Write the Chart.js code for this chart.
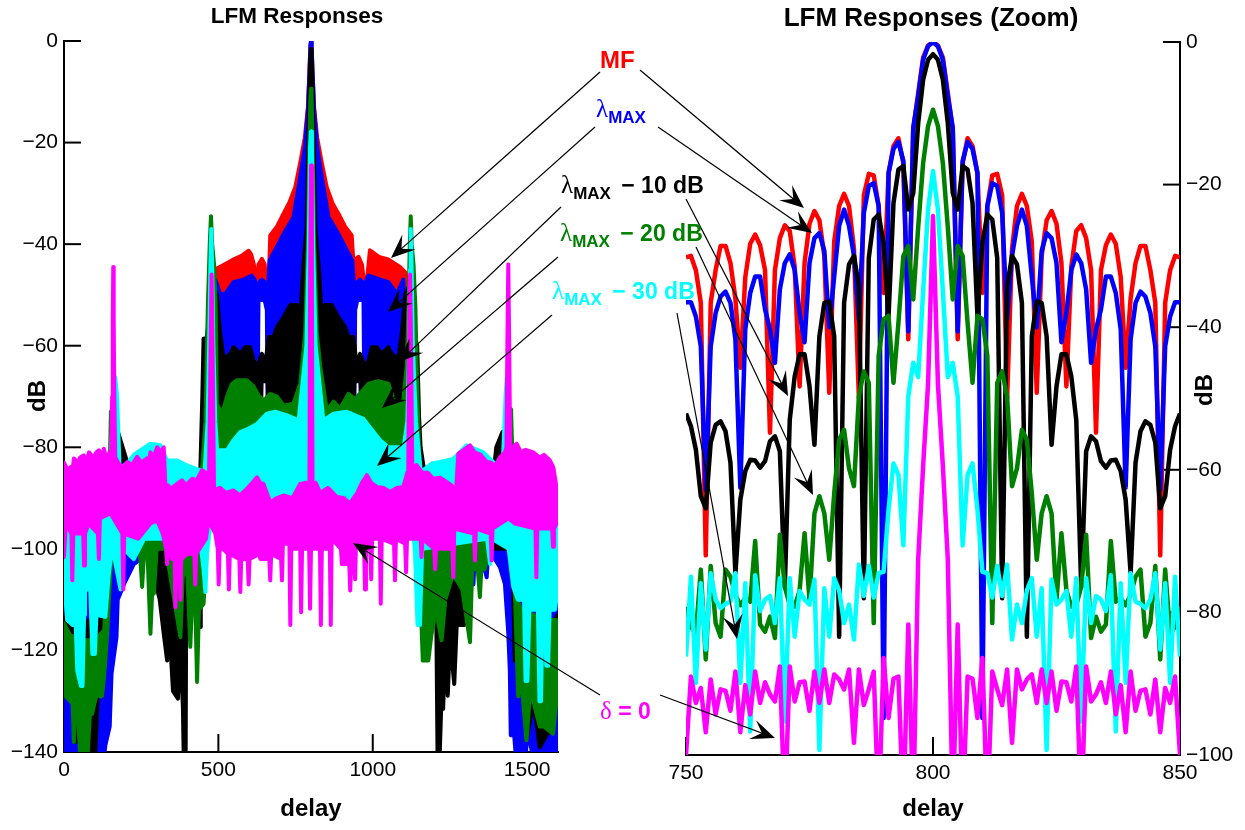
<!DOCTYPE html>
<html>
<head>
<meta charset="utf-8">
<title>LFM Responses</title>
<script src="https://cdn.jsdelivr.net/npm/chart.js@4/dist/chart.umd.min.js"></script>
<style>
  html, body { margin: 0; padding: 0; background: #fff; }
  #page { position: relative; width: 1245px; height: 830px; overflow: hidden; }
  canvas { position: absolute; top: 0; }
  #arrows { position: absolute; left: 0; top: 0; }
  .lab { position: absolute; font: bold 23px "Liberation Sans", Arial, sans-serif; white-space: nowrap; line-height: 26px; }
  .lab i { font: normal 25px "Liberation Serif", serif; }
  .lab sub { font: bold 17px "Liberation Sans", Arial, sans-serif; vertical-align: -6px; line-height: 0; margin-right: 4px; }
</style>
</head>
<body>
<div id="page">
  <canvas id="leftChart" width="600" height="830" style="left:0"></canvas>
  <canvas id="rightChart" width="645" height="830" style="left:600px"></canvas>
  <svg id="arrows" width="1245" height="830"></svg>
  <div class="lab" style="left:600px;top:47px;color:#f00;font-size:24px">MF</div>
  <div class="lab" style="left:596px;top:95px;color:#00f"><i>λ</i><sub>MAX</sub></div>
  <div class="lab" style="left:561px;top:171px;color:#000"><i>λ</i><sub>MAX</sub> − 10 dB</div>
  <div class="lab" style="left:560px;top:219px;color:#008000"><i>λ</i><sub>MAX</sub> − 20 dB</div>
  <div class="lab" style="left:552px;top:277px;color:#0ff"><i>λ</i><sub>MAX</sub> − 30 dB</div>
  <div class="lab" style="left:600px;top:697px;color:#f0f"><i>δ</i> = 0</div>
</div>
<script>
// left plot, envelopes (delay, dB)
var mfTopX = [478,495,520,550,575,598,606,615,622,630,641,650,657,664,668,690,711,730,749,765,780,790,795,798,800,802,805,810,820,835,851,870,889,910,932,937,946,954,965,975,983,991,1020,1050,1088,1105,1118];
var mfTopY = [-48,-44.8,-44,-43,-42.3,-41.3,-42,-44,-49,-44,-42.9,-44,-49.8,-46,-38.3,-36.5,-34,-31.8,-28.8,-24,-19,-13,-6,-1,0,-1,-6,-13,-19,-24,-28.8,-32,-34,-36.5,-38.3,-43.2,-42.9,-42.5,-44,-49,-46,-41.2,-42.5,-43,-44.5,-45.5,-48];
var mfLowX = [478,625,630,650,657,660,940,943,950,970,975,1118];
var mfLowY = [-62,-62,-46.5,-46.5,-50,-62,-62,-50,-46.5,-46.5,-62,-62];

var lamTopX = [0,160,440,470,490,506,522,549,581,608,618,624,632,641,650,657,662,666,690,711,743,765,780,790,795,798,800,802,805,810,820,835,857,889,910,934,938,943,950,959,968,975,980,986,1024,1051,1078,1099,1112,1150,1440,1600];
var lamTopY = [-95,-95,-95,-70,-47,-49.8,-49.8,-47.5,-47,-46.2,-47,-49.8,-47.5,-47,-47.5,-50,-47,-43.2,-40.5,-38,-34.7,-26.8,-21,-13.5,-6,-1,0,-1,-6,-13.5,-21,-26.8,-34.7,-38,-40.5,-43.2,-47,-50,-47.5,-47,-47.5,-49.8,-47,-46.2,-47,-47.5,-49.8,-47,-72,-95,-95,-95];
var lamLowX = [0,28,36,44,66,72,78,128,134,148,154,170,174,194,226,237,260,440,470,625,630,650,657,661,939,943,950,970,975,1130,1320,1326,1332,1340,1369,1375,1412,1428,1439,1444,1447,1458,1465,1490,1505,1520,1600];
var lamLowY = [-142,-142,-133,-142,-142,-136,-142,-142,-138.7,-135,-124.6,-117.4,-110,-107,-103,-102.5,-99,-99,-85,-85,-51,-51,-53,-85,-85,-53,-51,-51,-85,-85,-99,-107,-99,-99,-105.6,-100,-103.6,-106.9,-116.7,-124,-136.7,-136.7,-142,-142,-136,-142,-142];

var blkTopX = [0,20,60,80,110,130,140,148,160,175,190,205,240,440,448,452,462,476,484,495,506,517,539,549,571,587,603,614,625,641,652,663,679,690,711,733,754,765,775,786,794,798,800,802,806,814,825,835,846,867,889,910,921,937,948,959,975,986,997,1013,1029,1051,1061,1083,1094,1105,1116,1124,1138,1144,1150,1155,1165,1390,1400,1420,1440,1452,1460,1468,1480,1520,1550,1580,1600];
var blkTopY = [-113,-115,-116,-114,-114,-110,-100,-95,-78,-77,-80,-83,-88,-88,-70,-58.6,-58.5,-52,-48.5,-50,-57.6,-62.6,-61.6,-60.3,-61.6,-60.3,-60.3,-62.9,-64.2,-61.6,-63.6,-58.3,-58.3,-56.3,-54.4,-52,-52,-54.4,-44.5,-36.6,-12,-3,-1.6,-3,-12,-36.6,-44.5,-54.4,-52,-52,-54.4,-56.3,-58.3,-58.3,-63.6,-61.6,-64.2,-62.9,-60.3,-60.3,-61.6,-60.3,-61.6,-62.6,-57.6,-50,-48.5,-52,-58.6,-60,-74,-80,-84,-86,-80,-77,-77,-85,-100,-110,-114,-114,-116,-115,-113];
var blkLowX = [0,20,28,34,40,46,52,60,68,75,80,85,90,100,112,120,128,136,150,161,300,302,310,323,334,338,353,369,375,385,388,394,396,441,443,452,462,470,634,640,660,666,934,940,960,966,1125,1135,1145,1195,1205,1210,1216,1225,1228,1236,1243,1250,1264,1272,1296,1305,1400,1452,1460,1470,1500,1520,1541,1570,1600];
var blkLowY = [-118,-120,-128,-138,-130,-138,-125,-138,-130,-141,-130,-142,-130,-142,-125,-122,-118,-110,-100,-98,-98,-108,-110,-116.7,-122,-112,-128,-129.5,-118,-131,-142,-142,-107,-115.4,-105,-100,-95,-88,-88,-67,-67,-88,-88,-67,-67,-88,-88,-95,-104,-104,-108,-142,-142,-125,-131.5,-118,-128.9,-118,-126.6,-115,-115,-100,-100,-100,-122,-118,-137,-130,-139,-136,-124];

var l20TopX = [0,20,60,100,130,140,146,152,160,168,174,182,190,300,440,458,466,472,476,480,486,491,495,512,528,544,560,592,614,630,646,668,690,711,743,765,781,790,795,798,800,802,805,810,819,830,851,873,894,921,943,986,1018,1051,1072,1099,1110,1116,1120,1123,1126,1132,1138,1142,1151,1160,1300,1400,1420,1432,1440,1448,1456,1466,1480,1560,1595,1600];
var l20TopY = [-114.7,-117,-118,-118,-116,-105,-90,-73,-72.5,-72.5,-80,-86,-88,-90,-90,-75,-52,-40,-34.5,-40,-44,-52,-71.4,-73.4,-70,-67.5,-66.8,-66.8,-68,-69.8,-70.8,-69.5,-70,-71.8,-71.4,-67.5,-57.6,-40,-20,-11,-9.4,-11,-20,-40,-57.6,-64,-72.8,-71,-72.4,-69.5,-70.5,-67.5,-67,-67.5,-71.4,-70.8,-64,-52,-40,-34.5,-40,-44,-52,-64,-82.6,-88,-90,-90,-88,-73,-72.5,-72.5,-90,-109.5,-112,-114,-114,-116];
var l20LowX = [0,5,28,32,36,44,54,75,84,91,100,107,115,123,130,140,150,161,240,253,262,270,280,286,291,300,330,377,385,400,409,415,425,431,437,452,468,480,1130,1142,1155,1162,1180,1190,1205,1223,1235,1260,1290,1315,1322,1340,1347,1355,1363,1380,1440,1460,1471,1480,1498,1510,1520,1541,1555,1584,1600];
var l20LowY = [-115,-129,-130.5,-138,-130,-132,-142,-142,-132.5,-132.5,-130,-128.5,-129,-129,-125,-116.7,-105,-95.7,-95,-107.5,-98,-100,-116.7,-108,-108.8,-100,-100,-117.4,-105,-105,-119.3,-110,-110,-126.2,-112,-110.8,-94.4,-91,-91,-100,-110,-122,-122,-117,-112,-118,-110,-105,-108,-118.4,-104,-104,-109.5,-100,-104,-98,-98,-108,-129,-125,-137.7,-128,-130,-135,-135,-136.4,-127];

var l30TopX = [0,130,150,160,166,172,180,205,226,247,280,312,334,366,399,441,455,465,470,474,477,480,484,490,496,528,549,571,598,625,657,684,722,760,785,793,797,800,803,807,815,840,873,916,970,986,1024,1051,1100,1112,1118,1121,1123,1126,1130,1140,1156,1164,1191,1218,1261,1304,1331,1358,1390,1420,1430,1434,1440,1450,1600];
var l30TopY = [-90,-90,-85,-70,-66.2,-70,-84,-83.2,-81.5,-80.6,-79.3,-79.6,-82.6,-82.6,-83.6,-84.5,-85,-75,-60,-45,-37,-45,-60,-75,-80.6,-80.6,-78.6,-77,-76.3,-75.4,-73.4,-73,-73.7,-74.7,-60,-40,-21,-17.8,-21,-40,-60,-74.7,-73.4,-73,-74.4,-75.7,-78.6,-80,-80,-75,-60,-45,-37,-45,-60,-75,-85,-84.5,-83.2,-82.9,-82.3,-79.6,-80.3,-81,-82.9,-85,-70,-66.2,-70,-90,-90];
var l30LowX = [0,10,28,38,43,55,60,65,68,85,92,100,105,134,145,156,183,192,226,260,440,452,458,463,480,655,660,668,692,696,704,878,883,890,905,912,920,1125,1137,1145,1153,1160,1370,1380,1386,1440,1455,1470,1490,1495,1501,1507,1535,1540,1545,1550,1558,1562,1568,1573,1590,1600];
var l30LowY = [-106.2,-114,-115,-115,-124,-127,-127,-113,-108,-108,-120.7,-120.7,-113,-113.4,-105,-99.6,-108,-100,-102,-98,-98,-104,-108.5,-101,-92,-90,-85.5,-90,-90,-85,-90,-90,-84,-90,-90,-85,-90,-92,-101,-115,-115,-100,-98,-103,-98,-100,-107.5,-110,-110,-126,-126,-112,-112,-130,-130,-112,-115,-123,-123,-112,-112,-107.5];

var delTopX = [0,12,21,28,32,45,52,64,72,81,95,105,113,120,129,140,147,153,156,158,159.5,161,163,166,177,190,205,220,237,250,269,275,280,290,302,312,323,329,337,345,360,382,395,415,430,447,458,470,475,478,481,486,505,525,549,570,592,610,625,635,646,668,690,711,740,765,785,795,797,800,803,805,815,830,855,884,905,927,938,948,965,981,995,1013,1035,1056,1078,1099,1112,1115,1118,1121,1124,1128,1142,1160,1178,1196,1218,1239,1255,1270,1277,1295,1315,1330,1350,1369,1382,1396,1412,1428,1433,1436,1439,1442,1445,1452,1466,1480,1495,1520,1540,1555,1574,1585,1595,1600];
var delTopY = [-83,-84.5,-83.9,-84.5,-82.2,-83,-82,-81.6,-83,-81,-82,-81,-80.6,-82,-80.3,-83,-81,-82,-70,-55,-44.5,-55,-70,-82,-83.2,-84,-82.9,-83.5,-81.9,-83,-82.2,-83,-81,-82,-80,-81,-80,-88.5,-87.5,-88.2,-87.5,-86.5,-87.5,-86.2,-86.5,-84.5,-85,-85,-60,-46,-60,-88.5,-88,-89,-88.5,-89.5,-88.2,-87,-85.9,-87,-87.2,-90.8,-90,-89.5,-90,-87.2,-87,-88,-50,-24.5,-50,-88,-87,-89,-88,-89.8,-90,-91.1,-90,-89.2,-87,-85.5,-87,-87.8,-88,-88.8,-88,-87.8,-85,-85,-60,-46,-60,-84,-83.5,-85,-85,-86.2,-86,-86.8,-87.5,-88.5,-81.3,-80.5,-79.6,-81,-81.5,-82.9,-83,-83.6,-82,-81,-80,-60,-44,-60,-80,-80,-79.3,-81,-80.5,-81,-82,-81.5,-82.6,-84,-87.8,-89];
var delLowX = [0,5,15,24,27,30,42,62,65,68,80,110,113,116,150,170,189,192,195,240,280,302,320,331,334,337,350,358,361,364,374,377,380,400,422,425,428,460,468,490,498,501,504,515,531,534,537,568,571,574,595,598,601,633,636,665,668,671,703,706,709,730,733,736,765,768,771,794,797,800,829,832,835,861,864,867,897,900,924,927,930,940,943,946,972,975,978,992,995,998,1023,1026,1029,1069,1072,1075,1105,1108,1111,1155,1158,1161,1199,1202,1205,1258,1261,1264,1328,1331,1334,1382,1385,1388,1440,1460,1527,1530,1533,1581,1584,1587,1600];
var delLowY = [-101.6,-96,-96,-97,-106.2,-97,-97,-97,-103.3,-97,-95,-97,-102,-94,-93,-95,-97,-108,-97,-98,-95,-94.4,-97,-100,-103,-100,-102,-102,-111.5,-102,-102,-110,-102,-101,-101,-107,-101,-98,-94.4,-97,-100,-107,-100,-100,-101,-108,-101,-102,-108.5,-102,-102,-107,-102,-101,-102,-102,-106.2,-101,-102,-106.2,-99,-99,-115,-100,-100,-112.5,-100,-100,-111.8,-100,-100,-115,-100,-100,-115,-98,-100,-103,-103,-108.2,-103,-103,-106,-98,-100,-108,-100,-100,-106,-98,-98,-110.8,-98,-99,-106.2,-98,-99,-104.6,-98,-98,-101.6,-98,-100,-104,-100,-100,-105.6,-96,-97,-102.3,-96,-97,-102.3,-96,-94,-95,-96,-105.6,-96,-96,-99.6,-96,-94.4];

var leftTicksX = [0,500,1000,1500];

// right plot, one sample per delay
var zoomDelays = [750,751,752,753,754,755,756,757,758,759,760,761,762,763,764,765,766,767,768,769,770,771,772,773,774,775,776,777,778,779,780,781,782,783,784,785,786,787,788,789,790,791,792,793,794,795,796,797,798,799,800,801,802,803,804,805,806,807,808,809,810,811,812,813,814,815,816,817,818,819,820,821,822,823,824,825,826,827,828,829,830,831,832,833,834,835,836,837,838,839,840,841,842,843,844,845,846,847,848,849,850];
var zoomMF = [-30.2,-30,-32,-36.6,-72,-36.6,-32,-28.6,-28.6,-31,-36,-45.7,-33,-28.3,-27,-28.5,-32,-54.8,-32,-27.5,-25.7,-26.5,-31.5,-48.3,-31,-25.5,-23.7,-25,-30,-49.2,-28,-23,-21.3,-23,-29,-50,-21.5,-18.5,-18.7,-23,-35.2,-18.4,-14.6,-13.5,-17,-41.7,-12.3,-7.2,-2.2,-0.5,0,-0.5,-2.2,-7.2,-12.3,-41.7,-17,-13.5,-14.6,-18.4,-35.2,-23,-18.7,-18.5,-21.5,-50,-29,-23,-21.3,-23,-28,-49.2,-30,-25,-23.7,-25.5,-31,-48.3,-31.5,-26.5,-25.7,-27.5,-32,-54.8,-32,-28.5,-27,-28.3,-33,-45.7,-36,-31,-28.6,-28.6,-32,-36.6,-72,-36.6,-32,-30,-30.2];
var zoomLam = [-36.5,-36.5,-38.5,-42.7,-62.8,-42.7,-38,-35.7,-35,-36.6,-41.7,-62.5,-40.3,-35.2,-32.9,-32.9,-37.5,-40.3,-45,-34.7,-31,-29.8,-32,-38,-42.1,-31,-27.5,-26.8,-29.3,-40,-32.9,-25.8,-23.5,-25.8,-30,-39,-24,-20.2,-19.8,-23,-94.8,-18.4,-15,-14,-16.7,-40.6,-12,-7.6,-2.5,-0.6,0,-0.6,-2.5,-7.6,-12,-40.6,-16.7,-14,-15,-18.4,-94.8,-23,-19.8,-20.2,-24,-39,-30,-25.8,-23.5,-25.8,-32.9,-40,-29.3,-26.8,-27.5,-31,-42.1,-38,-32,-29.8,-31,-34.7,-45,-40.3,-37.5,-32.9,-32.9,-35.2,-40.3,-62.5,-41.7,-36.6,-35,-35.7,-38,-42.7,-62.8,-42.7,-38.5,-36.5,-36.5];
var zoomL10 = [-52.1,-53.9,-57.2,-63.7,-65.4,-56.2,-53.7,-53.2,-54.6,-59,-74.5,-64.2,-60.2,-58.6,-58.7,-59.7,-58.8,-56,-55.3,-57.4,-76.5,-53,-46.9,-43.8,-43.8,-48.3,-56.5,-41.3,-36.6,-36.4,-41.3,-83.4,-36.6,-31.2,-30,-34.3,-78,-30.3,-24.9,-24.2,-28.2,-38.5,-22.6,-17.9,-17.4,-23.5,-21.2,-11.4,-5.3,-2.5,-1.7,-2.5,-5.3,-11.4,-21.2,-23.5,-17.4,-17.9,-22.6,-38.5,-28.2,-24.2,-24.9,-30.3,-78,-34.3,-30,-31.2,-36.6,-83.4,-41.3,-36.4,-36.6,-41.3,-56.5,-48.3,-43.8,-43.8,-46.9,-53,-76.5,-57.4,-55.3,-56,-58.8,-59.7,-58.7,-58.6,-60.2,-64.2,-74.5,-59,-54.6,-53.2,-53.7,-56.2,-65.4,-63.7,-57.2,-53.9,-52.1];
var zoomL20 = [-79.2,-82,-83,-74,-86.6,-73.5,-81.5,-83.4,-74,-75,-77.5,-79,-78,-78.5,-70,-81.7,-82.7,-80.6,-83.6,-69.1,-76.4,-79,-79.2,-76.9,-68.9,-78.3,-66.1,-63.7,-66.1,-72.6,-63.3,-55.8,-54.4,-59.8,-62.3,-49.7,-46.2,-47.8,-81.5,-44,-38.9,-38.4,-47.8,-39.4,-30,-28.6,-36.1,-26,-17,-11.8,-9.5,-11.8,-17,-26,-36.1,-28.6,-30,-39.4,-47.8,-38.4,-38.9,-44,-81.5,-47.8,-46.2,-49.7,-62.3,-59.8,-54.4,-55.8,-63.3,-72.6,-66.1,-63.7,-66.1,-78.3,-68.9,-76.9,-79.2,-79,-76.4,-69.1,-83.6,-80.6,-82.7,-81.7,-70,-78.5,-78,-79,-77.5,-75,-74,-83.4,-81.5,-73.5,-86.6,-74,-83,-82,-79.2];
var zoomL30 = [-86.2,-75,-89.9,-75.9,-85.2,-74.5,-78.2,-79.4,-78.8,-78.5,-74.5,-89.9,-75.9,-96.7,-74.8,-79.8,-78.2,-77.7,-81.5,-75.2,-95.3,-75.2,-83.4,-77,-78.2,-78.9,-75.4,-99.3,-76.6,-83.4,-75.2,-76.9,-81.5,-78.9,-83.8,-73.3,-77.7,-73.5,-77.9,-74.5,-74.3,-65.6,-59.1,-60.7,-70.6,-49.7,-45,-47,-35,-23.5,-18.1,-23.5,-35,-47,-45,-49.7,-70.6,-60.7,-59.1,-65.6,-74.3,-74.5,-77.9,-73.5,-77.7,-73.3,-83.8,-78.9,-81.5,-76.9,-75.2,-83.4,-76.6,-99.3,-75.4,-78.9,-78.2,-77,-83.4,-75.2,-95.3,-75.2,-81.5,-77.7,-78.2,-79.8,-74.8,-96.7,-75.9,-89.9,-74.5,-78.5,-78.8,-79.4,-78.2,-74.5,-85.2,-75.9,-89.9,-75,-86.2];
var zoomDel = [-100,-89,-92.7,-90.6,-96.8,-89.4,-94.3,-90.8,-91,-93.8,-88.3,-96.8,-90.2,-94.3,-88.3,-92.7,-89.8,-91.5,-92.5,-87.6,-108,-87.6,-92.5,-89.8,-89.7,-93.8,-88.3,-92.7,-88,-92.7,-88.7,-89.4,-90.8,-88,-98.3,-88,-93,-90.8,-88.3,-108,-86.4,-94.8,-89.3,-89,-108,-81.7,-108,-72.6,-59.5,-48,-24.4,-48,-59.5,-72.6,-108,-81.7,-108,-89,-89.3,-94.8,-86.4,-108,-88.3,-90.8,-93,-88,-98.3,-88,-90.8,-89.4,-88.7,-92.7,-88,-92.7,-88.3,-93.8,-89.7,-89.8,-92.5,-87.6,-108,-87.6,-92.5,-91.5,-89.8,-92.7,-88.3,-94.3,-90.2,-96.8,-88.3,-93.8,-91,-90.8,-94.3,-89.4,-96.8,-90.6,-92.7,-89,-100];
var zoomTicksX = [750,800,850];

var RED = '#ff0000', BLUE = '#0000ff', BLACK = '#000000', GREEN = '#008000', CYAN = '#00ffff', MAGENTA = '#ff00ff';
var FONT = '"Liberation Sans", Arial, sans-serif';

function pts(xs, ys) {
  return xs.map(function (x, i) { return { x: x, y: ys[i] }; });
}

// upper line plus lower line filled up to it. First dataset ends up on top.
function band(name, color, topX, topY, lowX, lowY) {
  var base = { borderColor: color, backgroundColor: color, borderWidth: 4, pointRadius: 0, tension: 0,
    borderJoinStyle: 'round', borderCapStyle: 'round' };
  return [
    Object.assign({ label: name + ' top', data: pts(topX, topY), fill: false }, base),
    Object.assign({ label: name + ' low', data: pts(lowX, lowY), fill: '-1' }, base)
  ];
}

function zoomLine(name, color, ys) {
  return { label: name, data: pts(zoomDelays, ys), borderColor: color, borderWidth: 4.5, pointRadius: 0, tension: 0,
    fill: false, borderJoinStyle: 'round', borderCapStyle: 'butt' };
}

// ticks pointing into the plot, plus the title and the dB label that sits in the tick column
var inwardTicks = {
  id: 'inwardTicks',
  beforeDatasetsDraw: function (chart, args, opts) {
    var ctx = chart.ctx, xs = chart.scales.x, ys = chart.scales.y;
    var a = chart.chartArea;
    ctx.save();
    ctx.strokeStyle = '#000';
    ctx.lineWidth = 2;
    ys.ticks.forEach(function (t) {
      var py = ys.getPixelForValue(t.value);
      ctx.beginPath();
      if (opts.side === 'right') { ctx.moveTo(a.right, py); ctx.lineTo(a.right - 17, py); }
      else { ctx.moveTo(a.left, py); ctx.lineTo(a.left + 17, py); }
      ctx.stroke();
    });
    xs.ticks.forEach(function (t) {
      var px = xs.getPixelForValue(t.value);
      ctx.beginPath();
      ctx.moveTo(px, a.bottom);
      ctx.lineTo(px, a.bottom - 18);
      ctx.stroke();
    });
    ctx.restore();
  },
  afterDraw: function (chart, args, opts) {
    var ctx = chart.ctx;
    ctx.save();
    ctx.fillStyle = '#000';
    ctx.textAlign = 'center';
    ctx.textBaseline = 'middle';
    ctx.font = 'bold ' + opts.titleSize + 'px ' + FONT;
    ctx.fillText(opts.title, opts.titleX, opts.titleY);
    ctx.translate(opts.labelX, opts.labelY);
    ctx.rotate(-Math.PI / 2);
    ctx.font = 'bold 24px ' + FONT;
    ctx.fillText('dB', 0, 0);
    ctx.restore();
  }
};

function tickText(v) {
  return String(v).replace('-', '\u2212');
}

function options(cfg) {
  return {
    responsive: false,
    animation: false,
    layout: { padding: cfg.padding },
    plugins: {
      legend: { display: false },
      tooltip: { enabled: false },
      title: { display: false },
      inwardTicks: { side: cfg.side, labelX: cfg.labelX, labelY: cfg.labelY, title: cfg.title, titleSize: cfg.titleSize, titleX: cfg.titleX, titleY: cfg.titleY }
    },
    scales: {
      x: {
        type: 'linear', min: cfg.xMin, max: cfg.xMax,
        grid: { display: false, drawTicks: false },
        border: { display: true, width: 2, color: '#000' },
        afterBuildTicks: function (s) { s.ticks = cfg.xTicks.map(function (v) { return { value: v }; }); },
        ticks: { maxRotation: 0, padding: 6, color: '#000', font: { family: FONT, size: 21 }, callback: tickText },
        title: { display: true, text: 'delay', color: '#000', font: { family: FONT, size: 24, weight: 'bold' }, padding: { top: 2, bottom: 6 } },
        afterFit: function (s) { s.height = cfg.xHeight; }
      },
      y: {
        type: 'linear', min: cfg.yMin, max: 0, position: cfg.side,
        grid: { display: false, drawTicks: false },
        border: { display: true, width: 2, color: '#000' },
        ticks: { stepSize: 20, padding: 6, color: '#000', font: { family: FONT, size: 21 }, callback: tickText },
        afterFit: function (s) { s.width = cfg.yWidth; }
      }
    }
  };
}

new Chart(document.getElementById('leftChart'), {
  type: 'line',
  data: {
    datasets: [].concat(
      band('delta', MAGENTA, delTopX, delTopY, delLowX, delLowY),
      band('l30', CYAN, l30TopX, l30TopY, l30LowX, l30LowY),
      band('l20', GREEN, l20TopX, l20TopY, l20LowX, l20LowY),
      band('l10', BLACK, blkTopX, blkTopY, blkLowX, blkLowY),
      band('lam', BLUE, lamTopX, lamTopY, lamLowX, lamLowY),
      band('mf', RED, mfTopX, mfTopY, mfLowX, mfLowY)
    )
  },
  options: options({ title: 'LFM Responses', titleSize: 22.5, titleX: 297, titleY: 17, padding: { top: 41, right: 42 }, side: 'left',
    xMin: 0, xMax: 1600, xTicks: leftTicksX, yMin: -140, xHeight: 78, yWidth: 64, labelX: 38, labelY: 396 }),
  plugins: [inwardTicks]
});

new Chart(document.getElementById('rightChart'), {
  type: 'line',
  data: {
    datasets: [
      zoomLine('delta = 0', MAGENTA, zoomDel),
      zoomLine('lambda max - 30 dB', CYAN, zoomL30),
      zoomLine('lambda max - 20 dB', GREEN, zoomL20),
      zoomLine('lambda max - 10 dB', BLACK, zoomL10),
      zoomLine('lambda max', BLUE, zoomLam),
      zoomLine('MF', RED, zoomMF)
    ]
  },
  options: options({ title: 'LFM Responses (Zoom)', titleSize: 26, titleX: 331, titleY: 19, padding: { top: 42, left: 86 }, side: 'right',
    xMin: 750, xMax: 850, xTicks: zoomTicksX, yMin: -100, xHeight: 75, yWidth: 65, labelX: 605, labelY: 390 }),
  plugins: [inwardTicks]
});

// callout arrows, page pixels: from, tip
var arrows = [
  [600,72,391,258],[595,127,388,312],[561,207,399,362],[558,257,382,408],[552,315,377,466],[600,695,353,543],
  [640,70,804,208],[658,127,812,233],[686,199,788,396],[696,247,813,495],[677,313,737,639],[660,695,775,738]
];
var svg = document.getElementById('arrows');
arrows.forEach(function (a) {
  var dx = a[2] - a[0], dy = a[3] - a[1], len = Math.sqrt(dx * dx + dy * dy);
  var ux = dx / len, uy = dy / len, nx = -uy, ny = ux;
  var back = function (d, w) { return (a[2] - ux * d + nx * w) + ',' + (a[3] - uy * d + ny * w); };
  var line = document.createElementNS('http://www.w3.org/2000/svg', 'line');
  line.setAttribute('x1', a[0]); line.setAttribute('y1', a[1]);
  line.setAttribute('x2', a[2] - ux * 10); line.setAttribute('y2', a[3] - uy * 10);
  line.setAttribute('stroke', '#000'); line.setAttribute('stroke-width', '1.2');
  svg.appendChild(line);
  var head = document.createElementNS('http://www.w3.org/2000/svg', 'polygon');
  head.setAttribute('points', a[2] + ',' + a[3] + ' ' + back(24, 10) + ' ' + back(14, 0) + ' ' + back(24, -10));
  head.setAttribute('fill', '#000');
  svg.appendChild(head);
});
</script>
</body>
</html>
